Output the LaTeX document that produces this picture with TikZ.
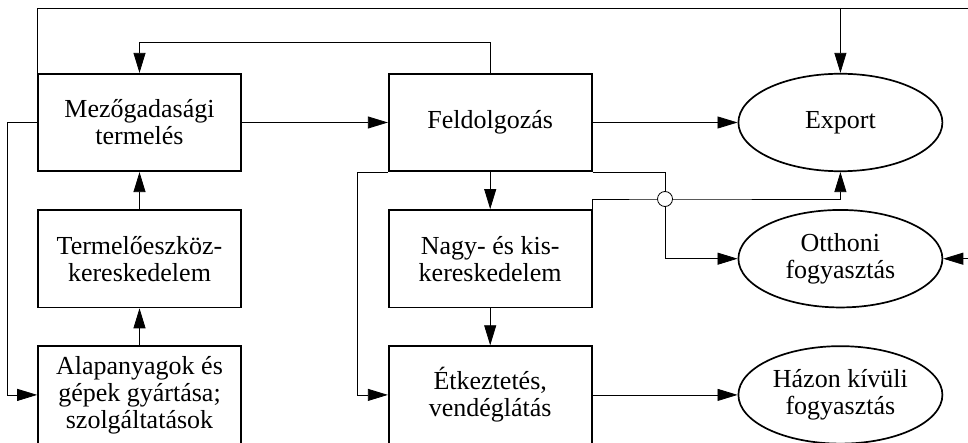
\documentclass[tikz,border=0pt]{standalone}
\usepackage{fontspec}
\setmainfont{Liberation Serif}
\usetikzlibrary{arrows.meta,shapes.geometric,positioning}

\begin{document}
\begin{tikzpicture}[x=1pt,y=1pt,line width=.8pt,
  every node/.style={font=\fontsize{26}{27}\selectfont},
  box/.style={draw,line width=1.7pt,minimum width=203pt,minimum height=97.5pt,align=center,inner sep=2pt},
  oval/.style={draw,ellipse,line width=1.7pt,minimum width=204pt,minimum height=97.5pt,align=center,inner sep=0pt},
  arr/.style={-{Triangle[length=20pt,width=12pt]}},
  hopc/.style={draw,circle,fill=white,minimum size=15pt,inner sep=0pt,line width=.8pt}]
\useasboundingbox (0,0) rectangle (968,442);\clip (0,0) rectangle (968,442);
\node[box] (Mezo) at (139.5,319.5){Mezőgadasági\\termelés};
\node[box,below=37pt of Mezo] (Term){Termelőeszköz-\\kereskedelem};
\node[box,below=37pt of Term] (Alap){Alapanyagok és\\gépek gyártása;\\szolgáltatások};
\node[box,right=146pt of Mezo] (Feld){Feldolgozás};
\node[box,below=37pt of Feld] (Nagy){Nagy- és kis-\\kereskedelem};
\node[box,below=37pt of Nagy] (Etk){Étkeztetés,\\vendéglátás};
\node[oval,right=145pt of Feld] (Export){Export};
\node[oval,below=37pt of Export] (Otthon){Otthoni\\fogyasztás};
\node[oval,below=37pt of Otthon] (Hazon){Házon kívüli\\fogyasztás};
\coordinate (topR) at (968,434);\coordinate (edgeR) at (968,0);\coordinate (hop) at (665,243);
\draw (Mezo.north west) |- (topR);
\draw[arr] (Export.north |- topR) -- (Export.north);
\draw[arr] (Feld.north) -- ++(0,30) -| (Mezo.north);
\draw[arr] (Mezo.east) -- (Feld.west);
\draw[arr] (Term) -- (Mezo);\draw[arr] (Alap) -- (Term);
\draw[arr] (Mezo.west) -- ++(-30,0) |- (Alap.west);
\draw[arr] (Feld.east) -- (Export.west);
\draw[arr] (Feld) -- (Nagy);\draw[arr] (Nagy) -- (Etk);
\draw[arr] (Feld.south west) -- ++(-30,0) |- (Etk.west);
\draw[arr] (Feld.south east) -| (hop) |- (Otthon.west);
\draw[arr] (Nagy.north east) |- (hop) -| (Export.south);
\node[hopc] (hopC) at (hop){};
\draw[arr] (Etk.east) -- (Hazon.west);
\draw[arr] (Otthon.east -| edgeR) -- (Otthon.east);
\end{tikzpicture}
\end{document}
